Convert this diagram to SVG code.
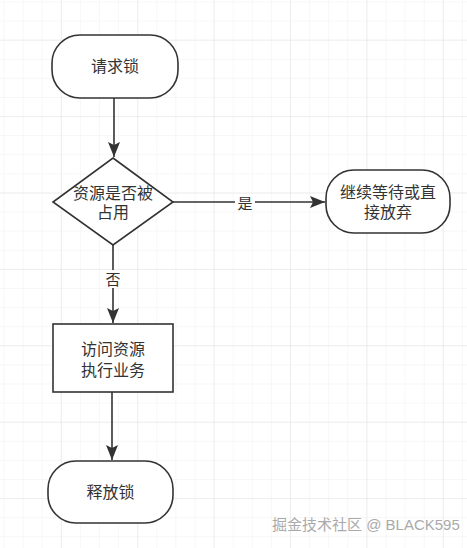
<svg xmlns="http://www.w3.org/2000/svg" width="467" height="548" viewBox="0 0 467 548">
<style>
.node{fill:#ffffff;stroke:#333333;stroke-width:1.6}
.t{font-family:"Liberation Sans","Noto Sans CJK SC",sans-serif;font-size:16px;fill:#333333;text-anchor:middle}
.edge{stroke:#333333;stroke-width:1.6;fill:none}
.lbl{font-family:"Liberation Sans","Noto Sans CJK SC",sans-serif;font-size:15px;fill:#333333;text-anchor:middle}
.wm{font-family:"Liberation Sans","Noto Sans CJK SC",sans-serif;font-size:15px;fill:#aaaaaa}
</style>
<defs>
<pattern id="minor" x="3.5" y="1.5" width="19.1" height="19.1" patternUnits="userSpaceOnUse">
<path d="M0,0 H19.1 M0,0 V19.1" stroke="#f0f0f0" stroke-width="1" fill="none"/>
</pattern>
<pattern id="major" x="60.8" y="39.7" width="76.4" height="76.4" patternUnits="userSpaceOnUse">
<path d="M0,0 H76.4 M0,0 V76.4" stroke="#e3e3e3" stroke-width="1" fill="none"/>
</pattern>
<marker id="arr" markerWidth="16" markerHeight="12" refX="15" refY="6" orient="auto" markerUnits="userSpaceOnUse">
<path d="M0,0 L15,6 L0,12 L3,6 Z" fill="#333333"/>
</marker>
</defs>
<rect width="467" height="548" fill="#ffffff"/>
<rect width="467" height="548" fill="url(#minor)"/>
<rect width="467" height="548" fill="url(#major)"/>

<g id="connectors">
<line class="edge" x1="114" y1="98" x2="114" y2="157" marker-end="url(#arr)"/>
<line class="edge" x1="173" y1="202" x2="325" y2="202" marker-end="url(#arr)"/>
<rect x="235" y="194" width="20" height="17" fill="#ffffff"/>
<text class="lbl" x="245" y="209">是</text>
<line class="edge" x1="113" y1="245" x2="113" y2="323" marker-end="url(#arr)"/>
<rect x="103" y="270" width="20" height="18" fill="#ffffff"/>
<text class="lbl" x="113" y="284.5">否</text>
<line class="edge" x1="112" y1="392" x2="112" y2="460" marker-end="url(#arr)"/>
</g>

<g id="n1">
<rect class="node" x="52" y="35" width="126" height="63" rx="28" ry="28"/>
<text class="t" x="115" y="72">请求锁</text>
</g>
<g id="n2">
<polygon class="node" points="113,158 173,202 113,245 53,202"/>
<text class="t"><tspan x="113" y="199">资源是否被</tspan><tspan x="113" y="218">占用</tspan></text>
</g>
<g id="n3">
<rect class="node" x="326" y="170" width="124" height="63" rx="28" ry="28"/>
<text class="t"><tspan x="388" y="197.5">继续等待或直</tspan><tspan x="388" y="217.5">接放弃</tspan></text>
</g>
<g id="n4">
<rect class="node" x="53" y="324" width="120" height="68"/>
<text class="t"><tspan x="113" y="354.5">访问资源</tspan><tspan x="113" y="375.5">执行业务</tspan></text>
</g>
<g id="n5">
<rect class="node" x="48" y="461" width="125" height="62" rx="28" ry="28"/>
<text class="t" x="110.5" y="498">释放锁</text>
</g>

<text class="wm" x="272" y="530">掘金技术社区 @ BLACK595</text>
</svg>
